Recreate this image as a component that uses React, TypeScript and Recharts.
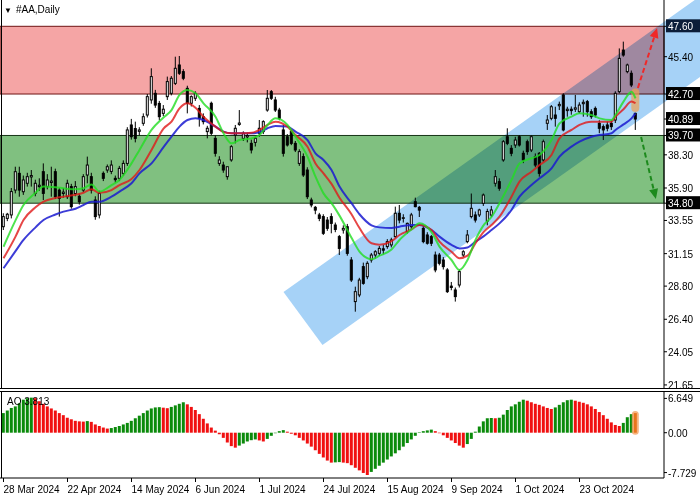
import React from 'react';
import {
  ComposedChart,
  Bar,
  Line,
  XAxis,
  YAxis,
  ReferenceArea,
  ReferenceLine,
} from 'recharts';

// daily candles, bar 0 = 28 Mar 2024
const opens = [
  33.10, 33.70, 33.95, 35.75, 36.96, 35.63, 36.24, 36.70, 35.51, 36.00,
  37.08, 36.00, 36.30, 37.08, 35.75, 35.50, 35.27, 36.00, 35.50, 35.30,
  35.75, 36.84, 36.72, 35.03, 33.95, 36.96, 37.20, 37.10, 36.60, 36.60,
  36.96, 37.68, 40.46, 40.20, 40.00, 40.58, 41.18, 42.27, 42.75, 42.02,
  41.30, 42.51, 42.75, 43.47, 44.80, 44.32, 43.11, 42.03, 42.39, 41.66,
  41.06, 39.98, 42.03, 39.49, 37.68, 37.56, 36.72, 37.93, 39.73, 40.50,
  39.49, 39.60, 39.13, 39.20, 39.86, 39.98, 41.54, 42.87, 42.27, 41.54,
  40.10, 39.61, 39.98, 39.13, 37.68, 38.17, 37.20, 35.03, 34.50, 33.95,
  33.83, 33.58, 33.83, 33.22, 32.38, 32.86, 33.10, 30.69, 27.68, 28.16,
  30.21, 29.48, 30.69, 31.05, 31.17, 31.50, 31.66, 31.78, 32.38, 34.07,
  33.70, 32.74, 33.10, 34.91, 34.50, 32.98, 32.50, 32.38, 31.05, 31.05,
  30.69, 29.97, 28.80, 28.52, 28.88, 31.05, 32.02, 33.83, 33.95, 33.95,
  34.79, 33.50, 33.94, 36.24, 36.36, 37.93, 39.61, 38.77, 39.01, 39.61,
  38.41, 39.25, 38.65, 38.17, 38.41, 37.93, 40.58, 40.94, 41.18, 41.85,
  42.63, 41.50, 41.60, 41.60, 41.42, 42.00, 42.15, 41.42, 41.66, 40.58,
  40.34, 40.46, 40.58, 40.82, 42.87, 45.88, 44.32, 44.20, 41.30,
];
const highs = [
  34.07, 34.10, 35.90, 37.44, 37.44, 36.80, 37.00, 37.20, 36.50, 36.60,
  37.68, 36.90, 37.44, 37.30, 35.90, 35.90, 36.50, 36.20, 36.40, 35.50,
  36.90, 38.17, 37.00, 35.30, 35.70, 37.10, 37.60, 37.90, 36.80, 37.50,
  37.90, 40.30, 40.90, 40.70, 40.30, 41.30, 42.70, 44.56, 43.00, 42.20,
  41.90, 43.96, 44.00, 45.40, 45.45, 44.50, 43.30, 42.60, 42.90, 41.90,
  41.30, 40.40, 42.15, 39.70, 38.20, 37.80, 37.00, 39.00, 40.46, 41.54,
  40.00, 39.90, 39.40, 39.60, 40.82, 40.80, 42.99, 42.99, 42.50, 41.70,
  40.46, 39.80, 40.10, 39.30, 38.70, 38.40, 37.40, 35.20, 34.60, 34.10,
  34.00, 33.80, 34.07, 33.40, 32.50, 33.20, 33.30, 30.90, 28.76, 29.40,
  30.50, 30.60, 31.20, 31.40, 31.70, 31.80, 32.20, 32.30, 34.55, 34.67,
  34.00, 33.40, 34.10, 35.20, 34.60, 33.20, 32.70, 32.50, 31.30, 31.20,
  30.90, 30.10, 29.10, 28.70, 30.00, 31.40, 32.86, 35.50, 34.20, 34.40,
  35.50, 34.40, 34.60, 37.20, 36.60, 39.37, 40.22, 39.00, 39.60, 39.73,
  38.60, 39.40, 39.70, 38.40, 38.50, 39.40, 41.18, 41.90, 41.78, 42.15,
  42.75, 41.78, 41.80, 42.63, 42.10, 42.30, 42.27, 41.60, 41.80, 40.80,
  40.50, 40.70, 40.80, 42.90, 46.00, 46.49, 44.90, 44.40, 41.35,
];
const lows = [
  32.86, 33.50, 33.70, 35.51, 35.27, 35.40, 36.00, 36.00, 35.30, 35.70,
  35.03, 35.80, 35.27, 35.10, 33.83, 35.20, 35.10, 34.40, 35.30, 34.70,
  35.60, 36.24, 35.50, 33.60, 33.70, 36.40, 37.00, 36.90, 36.30, 36.40,
  36.80, 37.50, 39.40, 39.20, 39.70, 40.40, 41.00, 42.00, 41.70, 40.80,
  41.10, 42.27, 42.60, 43.35, 44.08, 43.70, 41.30, 41.80, 42.20, 40.34,
  40.50, 39.49, 39.73, 38.17, 37.50, 37.00, 36.50, 37.80, 39.13, 40.40,
  39.30, 39.20, 38.40, 38.90, 39.61, 39.80, 41.42, 42.27, 41.40, 40.80,
  38.17, 38.90, 39.00, 38.50, 37.50, 36.70, 35.10, 34.50, 34.00, 33.50,
  32.50, 32.80, 32.62, 32.70, 31.05, 32.60, 31.00, 29.10, 26.95, 28.00,
  28.90, 29.30, 30.50, 30.80, 31.00, 31.10, 31.50, 31.60, 32.30, 33.34,
  33.40, 32.60, 32.90, 34.50, 33.80, 31.90, 31.80, 31.70, 29.80, 30.30,
  30.00, 28.30, 28.50, 27.68, 28.70, 30.90, 31.90, 33.70, 33.40, 33.80,
  34.60, 33.20, 33.80, 36.00, 35.70, 37.80, 39.00, 38.20, 38.80, 38.90,
  37.70, 38.30, 38.50, 37.40, 36.72, 37.80, 40.10, 40.80, 40.34, 41.54,
  40.00, 41.06, 41.20, 41.40, 41.30, 41.06, 41.06, 40.90, 41.00, 39.86,
  39.37, 40.00, 40.10, 40.60, 42.75, 45.40, 44.20, 43.20, 40.10,
];
const closes = [
  33.83, 34.00, 35.64, 37.08, 35.75, 36.48, 36.72, 36.80, 36.24, 36.10,
  35.51, 36.48, 36.40, 35.27, 35.15, 35.60, 36.24, 34.55, 36.00, 34.90,
  36.72, 37.56, 35.75, 33.83, 35.51, 36.60, 37.44, 37.56, 36.50, 37.32,
  37.68, 40.10, 39.61, 39.49, 40.10, 41.06, 42.51, 43.96, 41.90, 41.06,
  41.60, 43.60, 43.84, 44.56, 44.20, 43.84, 42.03, 42.51, 42.75, 40.94,
  40.70, 40.22, 39.86, 38.41, 37.93, 37.20, 37.44, 38.89, 40.22, 40.60,
  39.86, 39.70, 38.65, 39.50, 40.22, 40.70, 42.39, 42.39, 41.54, 40.94,
  38.41, 39.01, 39.13, 38.65, 38.53, 36.84, 35.27, 34.67, 34.30, 33.70,
  32.62, 32.98, 33.34, 32.90, 31.53, 32.98, 31.17, 29.24, 28.40, 29.24,
  29.00, 30.45, 31.05, 31.29, 31.53, 31.40, 32.02, 32.14, 34.07, 33.58,
  33.75, 33.34, 33.95, 34.55, 34.30, 32.02, 31.90, 31.90, 29.97, 30.45,
  30.21, 28.40, 28.70, 28.04, 29.85, 31.29, 32.50, 34.43, 33.58, 34.31,
  35.39, 34.20, 34.31, 36.72, 35.88, 39.25, 39.13, 38.41, 39.37, 39.01,
  37.93, 38.53, 39.61, 37.56, 36.96, 39.25, 40.82, 41.78, 40.94, 41.95,
  40.10, 41.60, 41.50, 41.70, 41.90, 42.10, 41.42, 41.06, 41.18, 40.22,
  40.10, 40.22, 40.34, 42.75, 45.28, 45.52, 44.80, 43.35, 40.89,
];

// moving averages, read at these bars
const maIdx = [
  0, 3, 5, 8, 10, 13, 15, 18, 20, 22, 24, 27, 29, 32, 34, 37, 40, 42, 44, 46,
  48, 50, 53, 55, 57, 59, 62, 64, 66, 68, 71, 73, 76, 78, 80, 82, 84, 87, 89, 92,
  94, 97, 99, 102, 104, 107, 109, 112, 114, 116, 118, 120, 122, 124, 127, 129, 132, 134, 137, 139,
  142, 144, 147, 149, 152, 153, 155, 157, 158,
];
const maFast = [
  31.65, 33.56, 34.67, 35.55, 36.00, 35.95, 35.88, 35.80, 35.88, 36.16, 35.64, 36.11, 36.48, 37.68, 38.65, 40.10, 41.00, 41.54, 42.63, 42.99,
  42.75, 42.03, 41.06, 39.86, 39.13, 39.37, 39.49, 39.73, 40.46, 40.94, 40.46, 39.61, 38.17, 36.72, 35.51, 34.80, 33.90, 32.30, 31.30, 30.75,
  31.00, 31.45, 32.14, 32.90, 33.34, 32.70, 31.66, 30.69, 29.97, 30.69, 32.14, 33.20, 33.80, 34.79, 36.48, 37.68, 38.05, 38.29, 39.37, 40.58,
  41.06, 41.30, 41.18, 40.94, 40.82, 41.18, 42.15, 42.87, 42.39,
];
const maMid = [
  30.81, 32.38, 33.58, 34.50, 34.91, 35.17, 35.27, 35.41, 35.56, 35.80, 35.55, 35.75, 36.11, 36.55, 37.20, 38.65, 40.20, 40.70, 41.66, 42.03,
  41.70, 41.06, 40.34, 39.95, 39.86, 39.86, 39.90, 40.10, 40.46, 40.70, 40.34, 39.73, 38.89, 37.68, 36.96, 36.20, 35.20, 34.00, 33.00, 31.90,
  31.80, 32.05, 32.50, 32.90, 33.22, 32.86, 32.02, 31.29, 30.81, 31.00, 31.90, 32.70, 33.22, 33.82, 35.27, 36.36, 37.08, 37.56, 38.29, 39.49,
  40.10, 40.46, 40.70, 40.70, 40.70, 41.06, 41.60, 42.15, 42.03,
];
const maSlow = [
  30.09, 31.33, 32.14, 33.05, 33.58, 33.98, 34.19, 34.40, 34.67, 34.91, 34.91, 35.27, 35.64, 36.24, 36.96, 37.68, 38.85, 39.61, 40.34, 40.82,
  40.94, 40.82, 40.34, 39.98, 39.86, 39.86, 39.86, 39.95, 40.22, 40.39, 40.34, 39.98, 39.37, 38.41, 37.93, 37.20, 36.00, 34.80, 34.00, 33.20,
  33.05, 33.00, 33.10, 33.22, 33.22, 32.86, 32.38, 31.78, 31.53, 31.60, 32.02, 32.40, 32.86, 33.34, 34.31, 35.27, 36.12, 36.60, 37.32, 38.17,
  38.89, 39.25, 39.61, 39.73, 39.86, 40.10, 40.50, 40.94, 41.30,
];

// awesome oscillator
const aoValues = [
  3.8, 4.3, 4.8, 5.1, 5.7, 6.4, 6.7, 6.8,
  6.7, 6.1, 5.6, 5.1, 4.7, 4.3, 3.8, 3.4, 2.9, 2.6, 2.3, 2.2, 2.15,
  2.25, 2.1, 1.6, 1.3, 1.0, 0.8,
  0.9, 1.1, 1.3, 1.6, 1.9, 2.3, 2.8, 3.3, 3.8, 4.3, 4.7,
  4.9, 4.95, 4.85, 4.75, 5.0, 5.3, 5.6, 5.9,
  5.5, 5.0, 4.4, 3.6, 2.7, 1.8, 1.0, 0.4, -0.3, -1.0, -1.9, -2.6, -2.9,
  -2.5, -2.1, -1.7, -1.45, -1.3, -1.5, -1.7, -1.2, -0.6, -0.1, 0.3, 0.5,
  0.2, -0.2, -0.5, -1.0, -1.5, -2.1, -2.7, -3.4, -4.1, -4.8, -5.4, -5.8,
  -5.75, -5.7, -5.8, -5.9, -6.3, -6.8, -7.3, -7.8, -8.2,
  -7.6, -7.0, -6.4, -5.8, -5.2, -4.6, -4.0, -3.4, -2.7, -2.0, -1.3, -0.6, 0.05, 0.3, 0.45, 0.6,
  0.3, -0.1, -0.5, -1.0, -1.5, -2.0, -2.5, -2.9,
  -2.2, -1.2, 0.2, 1.2, 2.2, 2.8, 2.85, 2.8, 2.9, 3.5, 4.4, 5.1, 5.5, 6.0, 6.4,
  6.2, 5.9, 5.6, 5.4, 5.1, 4.8, 4.6,
  4.9, 5.4, 5.9, 6.3, 6.4,
  6.2, 6.0, 5.8, 5.5, 5.1, 4.6, 4.0, 3.4, 2.7, 2.0, 1.5, 1.3,
  1.9, 3.0, 3.6, 3.8,
];

const dateTickIdx = [0, 16, 32, 48, 64, 80, 96, 112, 128, 144];
const dateLabels = [
  '28 Mar 2024', '22 Apr 2024', '14 May 2024', '6 Jun 2024', '1 Jul 2024',
  '24 Jul 2024', '15 Aug 2024', '9 Sep 2024', '1 Oct 2024', '23 Oct 2024',
];

const priceTicks = [47.6, 45.4, 42.7, 40.89, 39.7, 38.3, 35.9, 34.8, 33.55, 31.15, 28.8, 26.4, 24.05, 21.65];
const boxedTicks = [47.6, 42.7, 40.89, 39.7, 34.8];
const aoTicks = [6.649, 0, -7.729];
const aoLabel = 'AO 3.813';

// zones and the rising channel (bar index, price)
const resistZone = [42.7, 47.6];
const supportZone = [34.8, 39.7];
const channelUpper = [[70, 28.37], [180, 50.98]];
const channelLower = [[79.75, 24.54], [180, 45.14]];
const arrowUp = [[158.6, 43.14], [163.4, 47.48]];
const arrowDown = [[159.4, 39.59], [163.1, 35.1]];
const lastHighlight = [41.4, 43.1];

const xDomain = [-0.875, 165.125];
const priceDomain = [21.355, 49.503];
const aoDomain = [-8.78, 7.89];

const lastIdx = closes.length - 1;

const candleRows = opens.map((o, i) => ({
  i,
  o,
  h: highs[i],
  l: lows[i],
  c: closes[i],
  range: [lows[i], highs[i]],
}));
const maRows = (vals: number[]) => maIdx.map((i, k) => ({ i, v: vals[k] }));
const aoRows = aoValues.map((v, i) => ({ i, ao: v, up: i === 0 || v > aoValues[i - 1] }));

const font = '"Liberation Sans", Arial, sans-serif';

function CandleShape(props: any) {
  const { x, y, width, height, payload } = props;
  const { o, h, l, c, i } = payload;
  const cx = x + width / 2;
  const py = (p: number) => (h === l ? y : y + ((h - p) / (h - l)) * height);
  const top = py(Math.max(o, c));
  const bot = py(Math.min(o, c));
  const up = c >= o;
  return (
    <g>
      <line x1={cx} x2={cx} y1={y} y2={y + height} stroke="#000" strokeWidth={1} />
      <rect
        x={cx - 1}
        y={top}
        width={2}
        height={Math.max(bot - top, 0.6)}
        fill={up ? '#fff' : '#000'}
        stroke="#000"
        strokeWidth={1}
      />
      {i === lastIdx && (
        <rect
          x={cx - 4}
          y={py(lastHighlight[1])}
          width={8}
          height={py(lastHighlight[0]) - py(lastHighlight[1])}
          rx={4}
          fill="#f0a050"
          fillOpacity={0.7}
        />
      )}
    </g>
  );
}

function ChannelShape(props: any) {
  const { x, y, width, height } = props;
  const x1 = channelUpper[0][0];
  const x2 = channelUpper[1][0];
  const y1 = channelLower[0][1];
  const y2 = channelUpper[1][1];
  const px = (i: number) => x + ((i - x1) / (x2 - x1)) * width;
  const py = (p: number) => y + ((y2 - p) / (y2 - y1)) * height;
  const pts = [channelUpper[0], channelLower[0], channelLower[1], channelUpper[1]]
    .map(([i, p]) => `${px(i)},${py(p)}`)
    .join(' ');
  return <polygon points={pts} fill="#a6d2f7" style={{ mixBlendMode: 'multiply' }} />;
}

const makeArrow = (color: string) => (props: any) => {
  const { x1, y1, x2, y2 } = props;
  const dx = x2 - x1;
  const dy = y2 - y1;
  const len = Math.hypot(dx, dy) || 1;
  const ux = dx / len;
  const uy = dy / len;
  const hl = 10;
  const hw = 4.5;
  const bx = x2 - ux * hl;
  const by = y2 - uy * hl;
  return (
    <g>
      <line x1={x1} y1={y1} x2={bx} y2={by} stroke={color} strokeWidth={2} strokeDasharray="5 3" />
      <polygon
        points={`${x2},${y2} ${bx - uy * hw},${by + ux * hw} ${bx + uy * hw},${by - ux * hw}`}
        fill={color}
      />
    </g>
  );
};

function PriceTick(props: any) {
  const { x, y, payload } = props;
  const v = payload.value;
  const label = v.toFixed(2);
  const left = x - 3;
  if (boxedTicks.includes(v)) {
    return (
      <g>
        <rect x={left} y={y - 7} width={34} height={13} fill={v === 47.6 ? '#0b1d38' : '#000'} />
        <text x={left + 2} y={y + 4} fill="#fff" fontSize={10} fontFamily={font}>
          {label}
        </text>
      </g>
    );
  }
  return (
    <text x={left + 2} y={y + 4} fill="#000" fontSize={10} fontFamily={font}>
      {label}
    </text>
  );
}

function AoTick(props: any) {
  const { x, y, payload } = props;
  const v = payload.value;
  const label = v === 0 ? '0.00' : String(v);
  return (
    <text x={x - 1} y={y + 4} fill="#000" fontSize={10} fontFamily={font}>
      {label}
    </text>
  );
}

function DateTick(props: any) {
  const { x, y, payload } = props;
  const k = dateTickIdx.indexOf(payload.value);
  return (
    <text x={x} y={y + 9} fill="#000" fontSize={10} fontFamily={font} textAnchor="start">
      {dateLabels[k]}
    </text>
  );
}

function AoBarShape(props: any) {
  const { x, y, width, height, payload } = props;
  const cx = x + width / 2;
  const top = Math.min(y, y + height);
  const h = Math.abs(height);
  const last = payload.i === lastIdx;
  return (
    <g>
      {last && (
        <rect x={cx - 3.5} y={top - 2} width={7} height={h + 4} rx={3.5} fill="#f5a060" fillOpacity={0.8} />
      )}
      <rect
        x={cx - 1.5}
        y={top}
        width={3}
        height={Math.max(h, 0.5)}
        fill={last ? '#e8741c' : payload.up ? '#0b8a0b' : '#f01010'}
      />
    </g>
  );
}

export default function App() {
  return (
    <div
      style={{
        position: 'absolute',
        left: 0,
        top: 0,
        width: 700,
        height: 500,
        background: '#fff',
        overflow: 'hidden',
        fontFamily: font,
      }}
    >
      <div style={{ position: 'absolute', left: 0, top: 0 }}>
        <ComposedChart
          width={700}
          height={392}
          data={candleRows}
          margin={{ top: 0, right: 0, bottom: 3, left: 0 }}
        >
          <XAxis type="number" dataKey="i" domain={xDomain} allowDataOverflow hide />
          <YAxis
            type="number"
            orientation="right"
            width={36}
            domain={priceDomain}
            allowDataOverflow
            ticks={priceTicks}
            interval={0}
            tick={PriceTick}
            tickSize={3}
            tickMargin={2}
            tickLine={{ stroke: '#000' }}
            axisLine={{ stroke: '#000' }}
          />
          <ReferenceArea y1={resistZone[0]} y2={resistZone[1]} fill="#f5a5a5" fillOpacity={1} stroke="#6e1414" strokeWidth={1} />
          <ReferenceArea y1={supportZone[0]} y2={supportZone[1]} fill="#80c080" fillOpacity={1} stroke="#173517" strokeWidth={1} />
          <ReferenceArea
            x1={channelUpper[0][0]}
            x2={channelUpper[1][0]}
            y1={channelLower[0][1]}
            y2={channelUpper[1][1]}
            ifOverflow="visible"
            shape={ChannelShape}
          />
          <Bar dataKey="range" shape={CandleShape} barSize={4} isAnimationActive={false} />
          <Line data={maRows(maSlow)} dataKey="v" type="monotone" stroke="#1a1ad0" strokeWidth={2} strokeOpacity={0.85} dot={false} activeDot={false} isAnimationActive={false} />
          <Line data={maRows(maMid)} dataKey="v" type="monotone" stroke="#e01818" strokeWidth={2} strokeOpacity={0.8} dot={false} activeDot={false} isAnimationActive={false} />
          <Line data={maRows(maFast)} dataKey="v" type="monotone" stroke="#22dd22" strokeWidth={2} strokeOpacity={0.8} dot={false} activeDot={false} isAnimationActive={false} />
          <ReferenceLine
            segment={[{ x: arrowUp[0][0], y: arrowUp[0][1] }, { x: arrowUp[1][0], y: arrowUp[1][1] }]}
            shape={makeArrow('#f02828')}
          />
          <ReferenceLine
            segment={[{ x: arrowDown[0][0], y: arrowDown[0][1] }, { x: arrowDown[1][0], y: arrowDown[1][1] }]}
            shape={makeArrow('#1d8a1d')}
          />
        </ComposedChart>
      </div>

      <div style={{ position: 'absolute', left: 0, top: 392 }}>
        <ComposedChart
          width={700}
          height={108}
          data={aoRows}
          margin={{ top: 0, right: 0, bottom: 0, left: 0 }}
        >
          <XAxis
            type="number"
            dataKey="i"
            domain={xDomain}
            allowDataOverflow
            ticks={dateTickIdx}
            interval={0}
            tick={DateTick}
            tickSize={4}
            tickMargin={2}
            tickLine={{ stroke: '#000' }}
            axisLine={{ stroke: '#000' }}
            height={22}
          />
          <YAxis
            type="number"
            orientation="right"
            width={36}
            domain={aoDomain}
            allowDataOverflow
            ticks={aoTicks}
            interval={0}
            tick={AoTick}
            tickSize={3}
            tickMargin={2}
            tickLine={{ stroke: '#000' }}
            axisLine={{ stroke: '#000' }}
          />
          <Bar dataKey="ao" shape={AoBarShape} barSize={4} isAnimationActive={false} />
        </ComposedChart>
      </div>

      {/* panel frames */}
      <div style={{ position: 'absolute', left: 1, top: 0, width: 1, height: 389, background: '#000' }} />
      <div style={{ position: 'absolute', left: 0, top: 388, width: 700, height: 1, background: '#000' }} />
      <div style={{ position: 'absolute', left: 0, top: 391, width: 700, height: 1, background: '#000' }} />
      <div style={{ position: 'absolute', left: 1, top: 391, width: 1, height: 87, background: '#000' }} />

      <div style={{ position: 'absolute', left: 4, top: 4, fontSize: 10, color: '#000', whiteSpace: 'nowrap' }}>
        <span style={{ fontSize: 8, marginRight: 4 }}>▼</span>#AA,Daily
      </div>
      <div style={{ position: 'absolute', left: 7, top: 396, fontSize: 10, color: '#000', whiteSpace: 'nowrap' }}>
        {aoLabel}
      </div>
    </div>
  );
}
